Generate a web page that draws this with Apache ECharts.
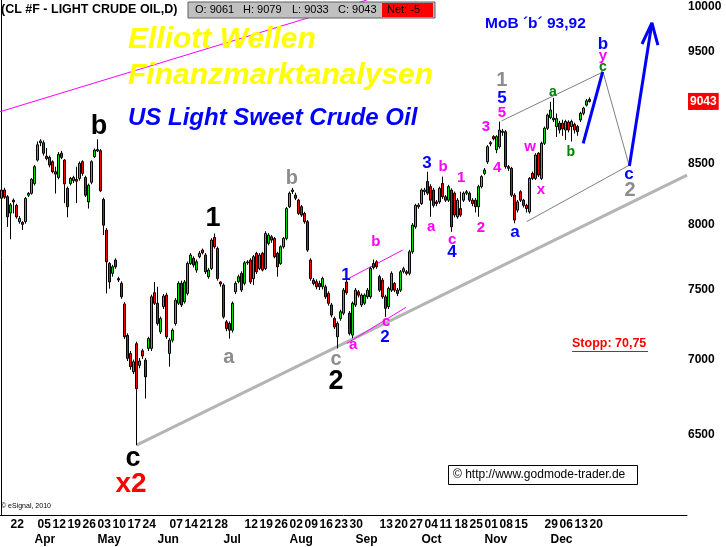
<!DOCTYPE html>
<html>
<head>
<meta charset="utf-8">
<title>CL #F - Light Crude Oil</title>
<script src="https://cdn.jsdelivr.net/npm/echarts@6/dist/echarts.min.js"></script>
<style>
html, body { margin: 0; padding: 0; background: #fff; }
#chart { width: 726px; height: 547px; }
</style>
</head>
<body>
<div id="chart"></div>
<script>
// daily bars, [open, high, low, close] in cents
var barsMar = [
  [8215, 8296, 8199, 8282], [8282, 8300, 8210, 8223], [8227, 8240, 7985, 8065], [8095, 8175, 7888, 8161],
  [8199, 8213, 8092, 8185], [8157, 8170, 8050, 8064], [8026, 8070, 8010, 8052], [8020, 8030, 7960, 8005],
  [8026, 8225, 8010, 8213], [8240, 8265, 8225, 8255], [8255, 8380, 8245, 8370]
];
var barsApr = [
  [8336, 8490, 8320, 8476], [8532, 8690, 8520, 8662], [8680, 8710, 8650, 8695], [8680, 8700, 8570, 8590],
  [8565, 8634, 8530, 8545], [8555, 8570, 8470, 8490], [8518, 8530, 8420, 8434], [8434, 8476, 8253, 8414],
  [8386, 8600, 8370, 8580], [8590, 8610, 8540, 8555], [8532, 8540, 8175, 8333], [8296, 8310, 8061, 8146],
  [8336, 8390, 8320, 8378], [8360, 8400, 8340, 8385], [8370, 8476, 8175, 8355], [8378, 8520, 8360, 8504],
  [8518, 8530, 8400, 8420], [8386, 8400, 8225, 8240], [8185, 8335, 8131, 8322], [8346, 8530, 8330, 8518],
  [8561, 8630, 8550, 8617]
];
var barsMay = [
  [8610, 8710, 8600, 8622], [8612, 8625, 8265, 8276], [8205, 8220, 7920, 7998], [7959, 7975, 7475, 7713],
  [7700, 7710, 7510, 7560], [7625, 7690, 7600, 7675], [7726, 7740, 7660, 7675], [7585, 7600, 7560, 7575],
  [7550, 7565, 7435, 7450], [7397, 7410, 7145, 7160], [7170, 7185, 6990, 7008], [7043, 7060, 6930, 6951],
  [6916, 7000, 6900, 6985], [7111, 7125, 6430, 6801], [6960, 7010, 6940, 6990], [7061, 7075, 7005, 7025],
  [6996, 7010, 6735, 6881], [7078, 7160, 7060, 7148], [7078, 7465, 7060, 7450], [7480, 7560, 7390, 7402]
];
var barsJun = [
  [7402, 7525, 7240, 7255], [7195, 7305, 7180, 7291], [7378, 7470, 7360, 7455], [7462, 7480, 7145, 7160],
  [7043, 7150, 6951, 7136], [7136, 7220, 7120, 7207], [7255, 7440, 7240, 7425], [7402, 7565, 7390, 7550],
  [7550, 7570, 7375, 7390], [7413, 7575, 7400, 7560], [7475, 7715, 7460, 7700], [7700, 7780, 7690, 7765],
  [7740, 7755, 7670, 7688], [7650, 7730, 7630, 7713], [7752, 7795, 7740, 7778], [7803, 7815, 7770, 7782],
  [7765, 7780, 7620, 7637], [7600, 7665, 7585, 7650], [7662, 7895, 7650, 7881], [7902, 7933, 7815, 7829],
  [7816, 7830, 7570, 7586], [7560, 7565, 7525, 7545]
];
var barsJul = [
  [7537, 7550, 7290, 7303], [7267, 7280, 7200, 7218], [7255, 7270, 7147, 7207], [7207, 7415, 7190, 7402],
  [7487, 7565, 7470, 7550], [7563, 7615, 7550, 7600], [7625, 7640, 7485, 7500], [7550, 7720, 7535, 7705],
  [7705, 7725, 7690, 7712], [7726, 7740, 7545, 7560], [7585, 7765, 7537, 7752], [7778, 7790, 7620, 7637],
  [7662, 7780, 7650, 7765], [7778, 7790, 7640, 7650], [7662, 7950, 7650, 7933], [7855, 7935, 7840, 7920],
  [7907, 7920, 7860, 7881], [7894, 7905, 7740, 7752], [7778, 7790, 7600, 7675], [7700, 7840, 7690, 7829],
  [7829, 7905, 7815, 7894], [7894, 8145, 7880, 8131]
];
var barsAug = [
  [8146, 8270, 8135, 8256], [8270, 8300, 8250, 8282], [8240, 8260, 8200, 8215], [8199, 8210, 8080, 8092],
  [8146, 8160, 8065, 8079], [8092, 8105, 8010, 8026], [8026, 8040, 7790, 7803], [7726, 7740, 7570, 7586],
  [7574, 7590, 7535, 7549], [7562, 7580, 7505, 7524], [7549, 7570, 7500, 7524], [7524, 7600, 7505, 7586],
  [7524, 7540, 7435, 7450], [7475, 7490, 7385, 7402], [7390, 7405, 7300, 7316], [7291, 7305, 7215, 7230],
  [7160, 7270, 7078, 7255], [7291, 7355, 7275, 7340], [7330, 7515, 7315, 7499], [7560, 7575, 7465, 7480],
  [7330, 7345, 7170, 7184], [7172, 7415, 7150, 7402]
];
var barsSep = [
  [7390, 7515, 7375, 7499], [7487, 7500, 7445, 7462], [7390, 7475, 7375, 7462], [7402, 7475, 7390, 7462],
  [7450, 7515, 7435, 7499], [7450, 7675, 7435, 7662], [7700, 7730, 7655, 7670], [7713, 7725, 7660, 7675],
  [7600, 7615, 7485, 7499], [7574, 7590, 7435, 7450], [7450, 7465, 7303, 7365], [7377, 7525, 7360, 7512],
  [7499, 7640, 7485, 7625], [7549, 7560, 7485, 7499], [7499, 7515, 7455, 7475], [7499, 7650, 7485, 7637],
  [7640, 7675, 7625, 7660], [7637, 7650, 7610, 7625], [7625, 7805, 7610, 7790], [7790, 8015, 7775, 7999],
  [7985, 8170, 7970, 8157], [8146, 8175, 8130, 8160]
];
var barsOct = [
  [8172, 8296, 8160, 8282], [8270, 8300, 8240, 8282], [8352, 8434, 8240, 8256], [8310, 8330, 8065, 8199],
  [8282, 8300, 8140, 8157], [8185, 8200, 8150, 8172], [8185, 8310, 8170, 8296], [8336, 8393, 8210, 8227],
  [8227, 8240, 8185, 8199], [8199, 8325, 8185, 8310], [8282, 8296, 7946, 7985], [8256, 8270, 8060, 8079],
  [8065, 8215, 8050, 8199], [8131, 8268, 8065, 8079], [8199, 8270, 8185, 8256], [8256, 8282, 8240, 8268],
  [8256, 8270, 8185, 8199], [8199, 8215, 8150, 8172], [8199, 8215, 8100, 8146], [8146, 8325, 8065, 8310],
  [8310, 8405, 8296, 8393]
];
var barsNov = [
  [8420, 8465, 8405, 8448], [8518, 8660, 8500, 8646], [8670, 8695, 8650, 8680], [8733, 8745, 8700, 8714],
  [8620, 8745, 8590, 8733], [8646, 8863, 8630, 8790], [8780, 8800, 8740, 8770], [8775, 8790, 8460, 8476],
  [8476, 8490, 8440, 8462], [8462, 8475, 8225, 8240], [8240, 8255, 8013, 8039], [8119, 8200, 8100, 8185],
  [8268, 8280, 8185, 8199], [8199, 8210, 8140, 8157], [8157, 8170, 8100, 8131], [8105, 8390, 8090, 8378],
  [8420, 8435, 8365, 8378], [8378, 8590, 8365, 8575], [8590, 8600, 8390, 8406], [8378, 8690, 8365, 8675],
  [8675, 8820, 8660, 8805], [8805, 8935, 8790, 8922]
];
var barsDec = [
  [8900, 9040, 8885, 8966], [8895, 9075, 8860, 8880], [8820, 8935, 8730, 8890], [8850, 8870, 8760, 8790],
  [8850, 8880, 8740, 8800], [8790, 8880, 8703, 8865], [8860, 8875, 8770, 8790], [8820, 8880, 8690, 8865],
  [8840, 8855, 8760, 8790], [8820, 8835, 8740, 8775], [8878, 8950, 8860, 8937], [8937, 8995, 8920, 8983],
  [9010, 9066, 8998, 9048], [9061, 9079, 9033, 9043]
];

var holidays = ['2010-04-02', '2010-05-31'];
var monthNames = ['Jan', 'Feb', 'Mar', 'Apr', 'May', 'Jun', 'Jul', 'Aug', 'Sep', 'Oct', 'Nov', 'Dec'];
var priceTicks = [6500, 7000, 7500, 8000, 8500, 9000, 9500, 10000];
// weeks that carry a day label on the time axis
var weekLabels = [
  '2010-03-22', '2010-04-05', '2010-04-12', '2010-04-19', '2010-04-26', '2010-05-03', '2010-05-10',
  '2010-05-17', '2010-05-24', '2010-06-07', '2010-06-14', '2010-06-21', '2010-06-28', '2010-07-12',
  '2010-07-19', '2010-07-26', '2010-08-02', '2010-08-09', '2010-08-16', '2010-08-23', '2010-08-30',
  '2010-09-13', '2010-09-20', '2010-09-27', '2010-10-04', '2010-10-11', '2010-10-18', '2010-10-25',
  '2010-11-01', '2010-11-08', '2010-11-15', '2010-11-29', '2010-12-06', '2010-12-13', '2010-12-20'
];

// wave counts: [text, bar index, price]
var blackLabels = [['b', 32.5, 8816], ['1', 70.5, 8055], ['2', 111.5, 6846], ['c', 43.8, 6348]];
var redLabels = [['x2', 43.2, 6187]];
var grayLabels = [['a', 75.8, 7017], ['b', 96.8, 8381], ['c', 111.5, 6998], ['1', 166.8, 9237], ['2', 209.5, 8282]];
var blueLabels = [
  ['1', 114.8, 7612], ['2', 127.8, 7158], ['3', 141.8, 8508], ['4', 150.2, 7787],
  ['5', 166.8, 9073], ['a', 171.2, 7945], ['b', 200.5, 9573], ['c', 209.2, 8415]
];
var magentaLabels = [
  ['a', 117.2, 7101], ['b', 124.8, 7866], ['c', 128.2, 7266], ['a', 143.2, 7985], ['b', 147.2, 8474],
  ['c', 150.2, 7882], ['1', 153.2, 8381], ['2', 159.8, 7977], ['3', 161.5, 8816], ['4', 165.2, 8466],
  ['5', 166.8, 8938], ['w', 176.2, 8643], ['x', 179.8, 8282], ['y', 200.5, 9460]
];
var greenLabels = [['a', 183.8, 9128], ['b', 189.8, 8600], ['c', 200.5, 9357]];

// drawn lines: [bar index, price]
var upperChannel = [[-0.5, 8951], [121.8, 10000]];
var supportLine = [[45, 6430], [228.5, 8406]];
var subChannelTop = [[115.1, 7580], [133.7, 7803]];
var subChannelBottom = [[115.1, 7113], [134.8, 7372]];
var triangleTop = [[166.7, 8870], [200.5, 9311]];
var triangleRight = [[200.5, 9311], [209.2, 8488]];
var triangleBottom = [[175.1, 8027], [209.2, 8488]];
var pathToB = [[193.9, 8674], [200.4, 9313]];
var pathUp = [[209.3, 8481], [216.8, 9775]];
var arrowHead = [[213.5, 9573], [216.8, 9775], [218.8, 9563]];

var bars = [].concat(barsMar, barsApr, barsMay, barsJun, barsJul, barsAug, barsSep, barsOct, barsNov, barsDec);
var slots = 229;

var dates = [];
var day = new Date(Date.UTC(2010, 2, 17));
while (dates.length < slots) {
  var wd = day.getUTCDay();
  var s = day.toISOString().slice(0, 10);
  if (wd !== 0 && wd !== 6 && holidays.indexOf(s) < 0) dates.push(s);
  day.setUTCDate(day.getUTCDate() + 1);
}

function isMonthStart(i) {
  return i > 0 && i < bars.length && dates[i].slice(5, 7) !== dates[i - 1].slice(5, 7);
}

var last = bars[bars.length - 1];
var prevClose = bars[bars.length - 2][3];

var ARIAL = '"Liberation Sans", Arial, sans-serif';
var NARROW = '"Liberation Sans Narrow", "Arial Narrow", "Liberation Sans", sans-serif';

function lineSeries(points, color, width, z) {
  return {
    type: 'line', xAxisIndex: 1, yAxisIndex: 0, data: points, symbol: 'none', silent: true,
    z: z, lineStyle: { color: color, width: width }
  };
}

function labelSeries(items, color, size) {
  return {
    type: 'scatter', xAxisIndex: 1, yAxisIndex: 0, symbolSize: 1, silent: true, z: 6,
    itemStyle: { color: 'rgba(0,0,0,0)', opacity: 1 },
    data: items.map(function (it) { return { name: it[0], value: [it[1], it[2]] }; }),
    label: {
      show: true, position: 'inside', formatter: '{b}', color: color,
      fontSize: size, fontWeight: 'bold', fontFamily: ARIAL, textBorderWidth: 0
    }
  };
}

var mid = { textVerticalAlign: 'middle', verticalAlign: 'middle' };
function textStyle(text, font, fill, extra) {
  return Object.assign({ text: text, font: font, fill: fill }, mid, extra || {});
}
var shadow = { shadowColor: 'rgba(60,60,60,0.8)', shadowBlur: 4, shadowOffsetX: 3, shadowOffsetY: 3 };

var graphics = [
  { type: 'text', z: 10, x: 1, y: 10, style: textStyle('(CL #F - LIGHT CRUDE OIL,D)', 'bold 12.5px ' + ARIAL, '#000') },
  { type: 'rect', z: 10, shape: { x: 188, y: 2, width: 247, height: 16 }, style: { fill: '#c0c0c0', stroke: '#606060', lineWidth: 1 } },
  { type: 'rect', z: 11, shape: { x: 382, y: 3, width: 51, height: 14 }, style: { fill: '#ff0000' } },
  { type: 'text', z: 12, x: 195, y: 10, style: textStyle('O: ' + last[0], '11px ' + ARIAL, '#000') },
  { type: 'text', z: 12, x: 243, y: 10, style: textStyle('H: ' + last[1], '11px ' + ARIAL, '#000') },
  { type: 'text', z: 12, x: 292, y: 10, style: textStyle('L: ' + last[2], '11px ' + ARIAL, '#000') },
  { type: 'text', z: 12, x: 338, y: 10, style: textStyle('C: ' + last[3], '11px ' + ARIAL, '#000') },
  { type: 'text', z: 12, x: 387, y: 10, style: textStyle('Net: ' + (last[3] - prevClose), '11px ' + ARIAL, '#000') },

  { type: 'text', z: 8, x: 128, y: 40, style: textStyle('Elliott Wellen', 'italic bold 30px ' + ARIAL, '#ffff00', shadow) },
  { type: 'text', z: 8, x: 128, y: 76, style: textStyle('Finanzmarktanalysen', 'italic bold 30px ' + ARIAL, '#ffff00', shadow) },
  { type: 'text', z: 8, x: 128, y: 118, style: textStyle('US Light Sweet Crude Oil', 'italic bold 24px ' + ARIAL, '#0000ff', shadow) },

  { type: 'text', z: 8, x: 485, y: 24, style: textStyle('MoB \u00b4b\u00b4 93,92', 'bold 15.5px ' + ARIAL, '#0000ff') },
  { type: 'text', z: 8, x: 572, y: 344, style: textStyle('Stopp: 70,75', 'bold 12.5px ' + ARIAL, '#ff0000') },
  { type: 'line', z: 8, shape: { x1: 572, y1: 351.5, x2: 648, y2: 351.5 }, style: { stroke: '#ff0000', lineWidth: 1 } },

  { type: 'rect', z: 8, shape: { x: 448.5, y: 465.5, width: 189, height: 19 }, style: { fill: '#fff', stroke: '#000', lineWidth: 1 } },
  { type: 'text', z: 9, x: 453, y: 475, style: textStyle('\u00a9 http://www.godmode-trader.de', '12px ' + ARIAL, '#000') },
  { type: 'text', z: 8, x: 1, y: 506, style: textStyle('\u00a9 eSignal, 2010', '7px ' + ARIAL, '#000') }
];

var chart = echarts.init(document.getElementById('chart'));
chart.setOption({
  animation: false,
  backgroundColor: '#fff',
  grid: { left: 0, right: 39, top: 0, bottom: 32, containLabel: false },
  xAxis: [{
    type: 'category',
    data: dates,
    boundaryGap: true,
    axisLine: { lineStyle: { color: '#000', width: 1 } },
    axisTick: { show: false },
    splitLine: { show: false },
    axisLabel: {
      interval: function (i) { return isMonthStart(i); },
      formatter: function (v) { return monthNames[+v.slice(5, 7) - 1]; },
      align: 'left',
      margin: 19,
      color: '#000',
      fontSize: 12,
      fontWeight: 'bold',
      fontFamily: NARROW
    }
  }, {
    type: 'value', min: -0.5, max: slots - 0.5, show: false
  }, {
    type: 'category',
    data: dates,
    position: 'bottom',
    boundaryGap: true,
    axisLine: { show: false },
    axisTick: { show: false },
    splitLine: { show: false },
    axisLabel: {
      interval: function (i, v) { return weekLabels.indexOf(v) >= 0; },
      formatter: function (v) { return v.slice(8, 10); },
      align: 'left',
      margin: 4,
      color: '#000',
      fontSize: 12,
      fontWeight: 'bold',
      fontFamily: NARROW
    }
  }],
  yAxis: {
    type: 'log',
    logBase: 10,
    min: 6000,
    max: 10000,
    position: 'right',
    axisLine: { show: true, lineStyle: { color: '#000', width: 1 } },
    axisTick: { show: false },
    splitLine: { show: false },
    axisLabel: {
      customValues: priceTicks,
      margin: 1,
      color: '#000',
      fontSize: 12,
      fontWeight: 'bold',
      fontFamily: NARROW,
      formatter: function (v) { return v === 10000 ? '{top|10000}' : String(v); },
      rich: { top: { padding: [14, 0, 0, 0], fontSize: 12, fontWeight: 'bold', fontFamily: NARROW, color: '#000' } }
    }
  },
  series: [
    lineSeries(upperChannel, '#ff00ff', 1, 1),
    lineSeries(supportLine, '#b4b4b4', 3, 1),
    lineSeries(subChannelTop, '#ff00ff', 1, 1),
    lineSeries(subChannelBottom, '#ff00ff', 1, 1),
    lineSeries(triangleTop, '#808080', 1, 1),
    lineSeries(triangleRight, '#808080', 1, 1),
    lineSeries(triangleBottom, '#808080', 1, 1),
    {
      type: 'candlestick',
      xAxisIndex: 0,
      yAxisIndex: 0,
      z: 3,
      barWidth: 3,
      data: bars.map(function (b) { return [b[0], b[3], b[2], b[1]]; }),
      itemStyle: {
        color: '#00e000', color0: '#ff0000',
        borderColor: '#000', borderColor0: '#000', borderColorDoji: '#000', borderWidth: 1
      },
      markLine: {
        silent: true,
        symbol: 'none',
        z: 20,
        data: [{ yAxis: last[3] }],
        lineStyle: { color: 'rgba(0,0,0,0)', width: 1, type: 'solid' },
        label: {
          show: true, position: 'end', distance: 1, formatter: String(last[3]),
          color: '#fff', backgroundColor: '#ff0000', padding: [3, 2, 2, 2],
          fontSize: 12, fontWeight: 'bold', fontFamily: NARROW
        }
      }
    },
    lineSeries(pathToB, '#0000ff', 3, 4),
    lineSeries(pathUp, '#0000ff', 3, 4),
    lineSeries(arrowHead, '#0000ff', 3, 4),
    labelSeries(blackLabels, '#000000', 27),
    labelSeries(redLabels, '#ff0000', 28),
    labelSeries(grayLabels, '#8c8c8c', 20),
    labelSeries(blueLabels, '#0000ff', 17),
    labelSeries(magentaLabels, '#ff00ff', 15),
    labelSeries(greenLabels, '#008000', 14)
  ],
  graphic: graphics
});
</script>
</body>
</html>
